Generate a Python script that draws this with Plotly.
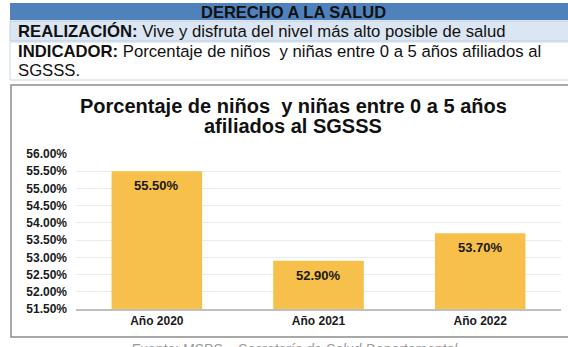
import plotly.graph_objects as go

# Data
categories = ["Año 2020", "Año 2021", "Año 2022"]
values = [55.50, 52.90, 53.70]
y_ticks = [51.5, 52.0, 52.5, 53.0, 53.5, 54.0, 54.5, 55.0, 55.5, 56.0]
y_tick_labels = [f"{v:.2f}%" for v in y_ticks]

header = "DERECHO A LA SALUD"
realizacion = "<b>REALIZACIÓN:</b> Vive y disfruta del nivel más alto posible de salud"
indicador_lines = [
    "<b>INDICADOR:</b> Porcentaje de niños  y niñas entre 0 a 5 años afiliados al",
    "SGSSS.",
]
title_lines = ["Porcentaje de niños  y niñas entre 0 a 5 años", "afiliados al SGSSS"]
source = "Fuente: MSPS – Secretaría de Salud Departamental"

W, H = 568, 347
L, R, T, B = 76, 7, 154, 38
PW, PH = W - L - R, H - T - B

def px(x):
    return (x - L) / PW

def py(y):
    return (H - B - y) / PH

FONT = "Liberation Sans, Arial, sans-serif"
BAR = "#F6C04A"
INK = "#111111"

fig = go.Figure()
fig.add_trace(go.Bar(
    x=categories, y=values,
    marker=dict(color=BAR, line=dict(width=0)),
    width=0.56,
    hoverinfo="skip",
))

shapes = [
    # header band
    dict(type="rect", xref="paper", yref="paper", x0=px(10), x1=px(570), y0=py(20), y1=py(3),
         fillcolor="#4F81BD", line=dict(width=0), layer="below"),
    # light row
    dict(type="rect", xref="paper", yref="paper", x0=px(10), x1=px(570), y0=py(41), y1=py(21),
         fillcolor="#DCE6F2", line=dict(color="#B8CCE4", width=1), layer="below"),
    # white row
    dict(type="rect", xref="paper", yref="paper", x0=px(10), x1=px(570), y0=py(80), y1=py(42),
         fillcolor="#FFFFFF", line=dict(color="#C6D6EA", width=1), layer="below"),
    # chart frame
    dict(type="rect", xref="paper", yref="paper", x0=px(11), x1=px(572), y0=py(337), y1=py(85),
         fillcolor="rgba(0,0,0,0)", line=dict(color="#8C8C8C", width=1.5), layer="below"),
]

annotations = [
    dict(xref="paper", yref="paper", x=px(293), y=py(12), text=f"<b>{header}</b>",
         showarrow=False, font=dict(family=FONT, size=16.5, color=INK),
         xanchor="center", yanchor="middle"),
    dict(xref="paper", yref="paper", x=px(16), y=py(31.5), text=realizacion,
         showarrow=False, font=dict(family=FONT, size=16.7, color=INK),
         xanchor="left", yanchor="middle"),
    dict(xref="paper", yref="paper", x=px(16), y=py(51), text=indicador_lines[0],
         showarrow=False, font=dict(family=FONT, size=16.7, color=INK),
         xanchor="left", yanchor="middle"),
    dict(xref="paper", yref="paper", x=px(16), y=py(70.5), text=indicador_lines[1],
         showarrow=False, font=dict(family=FONT, size=16.7, color=INK),
         xanchor="left", yanchor="middle"),
    dict(xref="paper", yref="paper", x=px(293), y=py(106), text=f"<b>{title_lines[0]}</b>",
         showarrow=False, font=dict(family=FONT, size=20, color=INK),
         xanchor="center", yanchor="middle"),
    dict(xref="paper", yref="paper", x=px(293), y=py(126), text=f"<b>{title_lines[1]}</b>",
         showarrow=False, font=dict(family=FONT, size=20, color=INK),
         xanchor="center", yanchor="middle"),
    dict(xref="paper", yref="paper", x=px(294), y=py(338.5), text=f"<i>{source}</i>",
         showarrow=False, font=dict(family=FONT, size=14, color="#9A9A9A"),
         xanchor="center", yanchor="top"),
]

for c, v in zip(categories, values):
    annotations.append(dict(
        x=c, y=v, xref="x", yref="y", text=f"<b>{v:.2f}%</b>", showarrow=False,
        yanchor="top", yshift=-5, font=dict(family=FONT, size=13, color="#1A1A1A"),
    ))

fig.update_layout(
    width=W, height=H,
    margin=dict(l=L, r=R, t=T, b=B),
    paper_bgcolor="white", plot_bgcolor="white",
    showlegend=False,
    shapes=shapes,
    annotations=annotations,
    xaxis=dict(
        showgrid=False, showline=True, linecolor="#BFBFBF", linewidth=2,
        ticks="", tickfont=dict(family=FONT, size=12, color="#1A1A1A", weight="bold"),
        fixedrange=True,
    ),
    yaxis=dict(
        range=[51.5, 56.0], tickvals=y_ticks, ticktext=y_tick_labels,
        showgrid=True, gridcolor="#EBEBEB", gridwidth=1, zeroline=False,
        ticks="", ticklabelstandoff=8,
        tickfont=dict(family=FONT, size=12, color="#1A1A1A", weight="bold"),
        fixedrange=True,
    ),
)

fig.write_html("out.html")
